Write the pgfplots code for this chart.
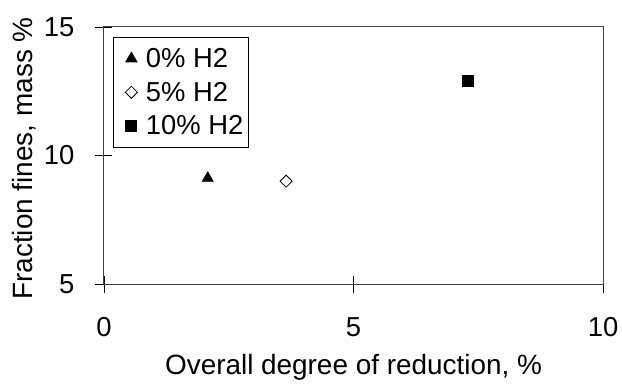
\documentclass[border=0pt]{standalone}
\usepackage{fontspec}
\setmainfont{Liberation Sans}
\usepackage{pgfplots}
\pgfplotsset{compat=1.18}
\begin{document}
\begin{tikzpicture}[x=1bp,y=1bp]
\begin{axis}[
  name=ax,
  scale only axis,
  width=499bp, height=257bp,
  xmin=0, xmax=10, ymin=5, ymax=15,
  xtick={0,5,10}, ytick={5,10,15},
  tick pos=left,
  tick align=center,
  major tick length=17bp,
  axis line style={draw=black!75, line width=1bp},
  every tick/.style={black, line width=0.8bp},
  tick label style={font=\fontsize{27.5}{30}\selectfont, inner sep=0pt},
  /pgf/number format/assume math mode=true,
  xticklabel style={anchor=base, yshift=-44bp},
  yticklabel style={anchor=east, xshift=-21bp},
  xlabel={Overall degree of reduction, \%},
  ylabel={Fraction fines, mass \%},
  every axis x label/.style={at={(axis description cs:0.5,0)}, anchor=base, yshift=-90bp, font=\fontsize{28}{30}\selectfont, inner sep=0pt},
  every axis y label/.style={at={(axis description cs:0,0.5)}, xshift=-71bp, yshift=-3bp, rotate=90, anchor=base, font=\fontsize{28}{30}\selectfont, inner sep=0pt},
  legend style={at={(0.018,0.961)}, anchor=north west, draw=black, line width=0.8bp,
    font=\fontsize{27.5}{30}\selectfont, inner xsep=3bp, inner ysep=9bp, row sep=9bp,
    legend cell align=left},
  legend image code/.code={\path[draw=none,fill=none] (0bp,0bp) -- (27.5bp,0bp); \draw[#1] plot coordinates {(15bp,0bp)};},
]
\addplot[only marks, mark=triangle*, mark size=6.5bp, black] coordinates {(2.08,9.12)};
\addlegendentry{0\% H2}
\addplot[only marks, mark=square, mark size=4.3bp, black, mark options={rotate=45, fill=white, line width=0.8bp}] coordinates {(3.65,9.0)};
\addlegendentry{5\% H2}
\addplot[only marks, mark=square*, mark size=5.5bp, black] coordinates {(7.29,12.9)};
\addlegendentry{10\% H2}
\end{axis}
\pgfresetboundingbox
\path (ax.south west) ++(-104,-101) rectangle ++(622,385);
\end{tikzpicture}
\end{document}
